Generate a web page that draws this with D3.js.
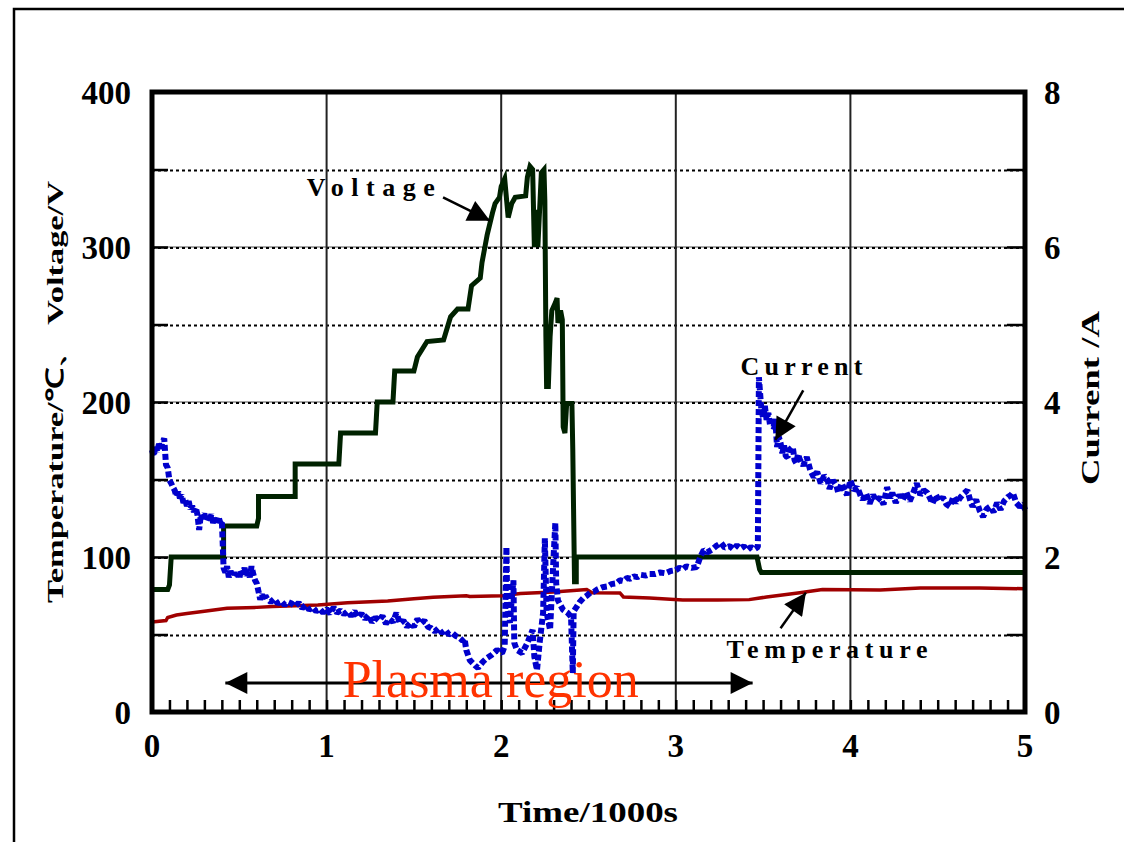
<!DOCTYPE html>
<html>
<head>
<meta charset="utf-8">
<script src="https://cdn.jsdelivr.net/npm/d3@7"></script>
<style>
  html, body { margin: 0; padding: 0; background: #fff; }
  svg { display: block; }
  .lbl { font-family: "Liberation Serif", "Times New Roman", serif; font-weight: bold; fill: #000; }
</style>
</head>
<body>
<svg id="chart" width="1124" height="842"></svg>
<script>
// ---- data: time in 1000 s ----
const timeTicks = [0, 1, 2, 3, 4, 5];
const leftTicks = [0, 100, 200, 300, 400];
const rightTicks = [0, 2, 4, 6, 8];

// Voltage (V)
const voltT = [0.00, 0.09, 0.10, 0.11, 0.41, 0.41, 0.60, 0.61, 0.61, 0.82, 0.82, 1.07, 1.075, 1.08, 1.28, 1.285, 1.29,
  1.38, 1.385, 1.39, 1.50, 1.52, 1.575, 1.67, 1.71, 1.75, 1.81, 1.83, 1.88, 1.89, 1.91, 1.92, 1.95, 1.965, 1.99, 2.00,
  2.02, 2.04, 2.06, 2.08, 2.14, 2.15, 2.165, 2.18, 2.19, 2.20, 2.21, 2.23, 2.245, 2.25, 2.256, 2.26, 2.27, 2.28, 2.29,
  2.31, 2.32, 2.325, 2.34, 2.35, 2.355, 2.365, 2.375, 2.405, 2.41, 2.42, 2.43, 2.43, 3.465, 3.48, 3.49, 5.00];
const voltV = [79, 79, 82, 100, 100, 120, 120, 125, 139, 139, 160, 160, 170, 180, 180, 190, 200,
  200, 210, 220, 220, 229, 239, 240, 255, 260, 260, 275, 280, 290, 302, 308, 322, 328, 332, 339,
  344, 319, 328, 332, 333, 345, 352, 350, 300, 324, 300, 348, 350, 330, 242, 210, 210, 242, 259,
  264, 267, 251, 259, 253, 184, 180, 199, 199, 169, 84, 84, 100, 100, 92, 90, 90];

// Current (A)
const currT = [
  0.00, 0.01, 0.02, 0.03, 0.04, 0.05, 0.06, 0.07, 0.08, 0.09, 0.10, 0.11, 0.12, 0.13, 0.14, 0.15, 0.16, 0.17, 0.18, 0.19,
  0.20, 0.21, 0.22, 0.23, 0.24, 0.25, 0.26, 0.27, 0.28, 0.29, 0.30, 0.31, 0.32, 0.33, 0.34, 0.35, 0.36, 0.37, 0.38, 0.39,
  0.40, 0.41, 0.42, 0.43, 0.44, 0.45, 0.46, 0.47, 0.48, 0.49, 0.50, 0.51, 0.52, 0.53, 0.54, 0.55, 0.56, 0.57, 0.58, 0.59,
  0.60, 0.62, 0.63, 0.64, 0.65, 0.66, 0.68, 0.70, 0.72, 0.74, 0.76, 0.78, 0.80, 0.82, 0.84, 0.86, 0.88, 0.90, 0.92, 0.94,
  0.96, 0.98, 1.00, 1.02, 1.04, 1.06, 1.08, 1.10, 1.12, 1.14, 1.16, 1.18, 1.20, 1.22, 1.24, 1.26, 1.28, 1.30, 1.32, 1.34,
  1.36, 1.38, 1.40, 1.42, 1.44, 1.46, 1.48, 1.50, 1.52, 1.54, 1.56, 1.58, 1.60, 1.62, 1.64, 1.66, 1.68, 1.70, 1.72, 1.74,
  1.76, 1.78, 1.79, 1.80, 1.82, 1.85, 1.867, 1.896, 1.92, 1.947, 1.976, 2.005, 2.02, 2.03, 2.035, 2.05, 2.06, 2.07, 2.075,
  2.09, 2.12, 2.15, 2.18, 2.19, 2.205, 2.22, 2.24, 2.25, 2.26, 2.28, 2.30, 2.31, 2.315, 2.325, 2.354, 2.38, 2.40, 2.41,
  2.415, 2.43, 2.45, 2.47, 2.49, 2.51, 2.53, 2.55, 2.58, 2.61, 2.63, 2.66, 2.68, 2.70, 2.72, 2.74, 2.76, 2.78, 2.80, 2.83,
  2.85, 2.88, 2.91, 2.94, 2.97, 3.00, 3.02, 3.04, 3.06, 3.09, 3.12, 3.14, 3.16, 3.18, 3.21, 3.23, 3.26, 3.28, 3.31, 3.33,
  3.35, 3.37, 3.39, 3.41, 3.43, 3.45, 3.47, 3.476, 3.49, 3.50, 3.51, 3.52, 3.53, 3.54, 3.56, 3.57, 3.58, 3.59, 3.60, 3.61,
  3.62, 3.63, 3.64, 3.65, 3.67, 3.68, 3.69, 3.70, 3.71, 3.73, 3.75, 3.77, 3.79, 3.81, 3.83, 3.85, 3.87, 3.88, 3.90, 3.92,
  3.93, 3.95, 3.96, 3.98, 4.00, 4.02, 4.04, 4.06, 4.07, 4.09, 4.11, 4.13, 4.15, 4.17, 4.19, 4.21, 4.23, 4.24, 4.26, 4.28,
  4.30, 4.32, 4.34, 4.36, 4.38, 4.40, 4.42, 4.44, 4.46, 4.47, 4.49, 4.51, 4.53, 4.55, 4.57, 4.59, 4.61, 4.63, 4.65, 4.67,
  4.69, 4.70, 4.72, 4.74, 4.76, 4.78, 4.80, 4.82, 4.84, 4.86, 4.88, 4.90, 4.92, 4.93, 4.95, 4.97, 4.99, 5.00];
const currI = [
  3.38, 3.30, 3.44, 3.36, 3.46, 3.40, 3.48, 3.53, 3.19, 3.15, 2.99, 2.95, 2.90, 2.86, 2.78, 2.84, 2.76, 2.80, 2.70, 2.74,
  2.66, 2.72, 2.62, 2.66, 2.58, 2.64, 2.55, 2.35, 2.55, 2.50, 2.56, 2.46, 2.52, 2.47, 2.55, 2.44, 2.50, 2.42, 2.52, 2.45,
  2.48, 1.86, 1.80, 1.88, 1.74, 1.82, 1.75, 1.80, 1.74, 1.78, 1.72, 1.84, 1.78, 1.86, 1.76, 1.82, 1.74, 1.88, 1.78, 1.70,
  1.66, 1.45, 1.52, 1.44, 1.50, 1.46, 1.42, 1.46, 1.40, 1.43, 1.38, 1.42, 1.40, 1.36, 1.41, 1.34, 1.38, 1.32, 1.35, 1.30,
  1.33, 1.28, 1.33, 1.27, 1.35, 1.28, 1.31, 1.26, 1.30, 1.24, 1.30, 1.22, 1.27, 1.20, 1.25, 1.16, 1.22, 1.18, 1.24, 1.14,
  1.20, 1.16, 1.28, 1.14, 1.18, 1.10, 1.15, 1.10, 1.20, 1.14, 1.18, 1.10, 1.08, 1.04, 1.08, 1.02, 1.06, 1.00, 1.02, 0.98,
  0.96, 0.92, 0.95, 0.80, 0.67, 0.60, 0.57, 0.65, 0.70, 0.74, 0.80, 0.76, 0.85, 2.13, 1.32, 1.15, 1.45, 1.70, 0.89,
  0.80, 0.76, 0.89, 1.06, 0.71, 0.54, 0.89, 1.28, 2.24, 1.28, 1.06, 2.00, 2.44, 1.66, 1.44, 1.32, 1.28, 1.23, 0.50,
  1.30, 1.35, 1.42, 1.47, 1.50, 1.54, 1.55, 1.58, 1.61, 1.62, 1.65, 1.66, 1.70, 1.69, 1.73, 1.72, 1.75, 1.74, 1.77, 1.76,
  1.78, 1.78, 1.80, 1.79, 1.82, 1.83, 1.86, 1.84, 1.88, 1.86, 1.87, 2.00, 2.09, 2.06, 2.10, 2.14, 2.18, 2.12, 2.14, 2.10,
  2.15, 2.11, 2.14, 2.09, 2.13, 2.10, 2.13, 4.32, 3.90, 3.80, 3.95, 3.77, 3.86, 3.70, 3.68, 3.78, 3.42, 3.55, 3.47, 3.34,
  3.44, 3.30, 3.29, 3.38, 3.42, 3.25, 3.21, 3.33, 3.26, 3.18, 3.29, 3.12, 3.03, 3.10, 2.95, 3.05, 2.99, 2.88, 2.99, 2.92,
  2.83, 2.95, 2.90, 2.80, 2.99, 2.86, 2.90, 2.78, 2.74, 2.82, 2.69, 2.80, 2.72, 2.77, 2.68, 2.90, 2.76, 2.83, 2.70, 2.80,
  2.74, 2.84, 2.72, 2.83, 2.95, 2.80, 2.86, 2.83, 2.74, 2.69, 2.80, 2.72, 2.77, 2.68, 2.65, 2.78, 2.70, 2.77, 2.82, 2.86,
  2.70, 2.65, 2.74, 2.60, 2.52, 2.62, 2.65, 2.58, 2.70, 2.61, 2.72, 2.77, 2.80, 2.83, 2.70, 2.65, 2.68, 2.61];

// Temperature (°C)
const tempT = [0.00, 0.08, 0.09, 0.14, 0.20, 0.30, 0.43, 0.60, 0.69, 0.95, 1.12, 1.35, 1.50, 1.61, 1.80, 1.82, 2.01,
  2.11, 2.30, 2.49, 2.52, 2.68, 2.70, 2.85, 3.04, 3.24, 3.42, 3.52, 3.61, 3.71, 3.84, 4.17, 4.40, 4.74, 5.00];
const tempC = [58, 59, 61, 62.6, 63.5, 65, 67, 67.5, 68, 69, 70.5, 71.6, 73, 74, 75, 74.5, 75,
  76.5, 77.4, 79, 77, 76.8, 74.2, 73.5, 72.3, 72.3, 72.5, 74.2, 75.5, 77, 79, 78.7, 80, 80, 79.5];

// ---- scales ----
const svg = d3.select("#chart");
const x = d3.scaleLinear().domain([0, 5]).range([152, 1025]);
const yV = d3.scaleLinear().domain([0, 400]).range([712, 92]);
const yI = d3.scaleLinear().domain([0, 8]).range([712, 92]);

// arrow head marker
const defs = svg.append("defs");
defs.append("marker").attr("id", "head").attr("viewBox", "0 0 10 10")
  .attr("refX", 10).attr("refY", 5).attr("markerUnits", "userSpaceOnUse")
  .attr("markerWidth", 26).attr("markerHeight", 22).attr("orient", "auto-start-reverse")
  .append("path").attr("d", "M0,0 L10,5 L0,10 Z").attr("fill", "#000");

// outer frame
svg.append("rect").attr("x", 14).attr("y", 9).attr("width", 1200).attr("height", 900)
  .attr("fill", "none").attr("stroke", "#000").attr("stroke-width", 2.5);

// ---- grid ----
const grid = svg.append("g");
grid.selectAll("line.hv").data([100, 200, 300]).join("line")
  .attr("x1", x(0)).attr("x2", x(5)).attr("y1", d => yV(d)).attr("y2", d => yV(d))
  .attr("stroke", "#8a8a8a").attr("stroke-width", 1.5);
grid.selectAll("line.hi").data([1, 2, 3, 4, 5, 6, 7]).join("line")
  .attr("x1", x(0)).attr("x2", x(5)).attr("y1", d => yI(d) + 1).attr("y2", d => yI(d) + 1)
  .attr("stroke", "#000").attr("stroke-width", 2).attr("stroke-dasharray", "3,3");
grid.selectAll("line.vt").data([1, 2, 3, 4]).join("line")
  .attr("x1", d => x(d)).attr("x2", d => x(d)).attr("y1", yV(400)).attr("y2", yV(0))
  .attr("stroke", "#222").attr("stroke-width", 2);

// ---- series ----
const line = (xs, ys, yScale) => d3.line().x(i => x(xs[i])).y(i => yScale(ys[i]))(d3.range(xs.length));

svg.append("path").attr("d", line(tempT, tempC, yV))
  .attr("fill", "none").attr("stroke", "#a00000").attr("stroke-width", 3.5);
svg.append("path").attr("d", line(voltT, voltV, yV))
  .attr("fill", "none").attr("stroke", "#002200").attr("stroke-width", 5).attr("stroke-linejoin", "miter");
svg.append("path").attr("d", line(currT, currI, yI))
  .attr("fill", "none").attr("stroke", "#0000cc").attr("stroke-width", 6)
  .attr("stroke-linejoin", "bevel").attr("stroke-dasharray", "6,3");

// ---- axes ----
const axL = svg.append("g").attr("transform", `translate(${x(0)},0)`)
  .call(d3.axisRight(yV).tickValues(d3.range(0, 401, 50)).tickSize(16).tickFormat(""));
const axR = svg.append("g").attr("transform", `translate(${x(5)},0)`)
  .call(d3.axisLeft(yI).tickValues(d3.range(0, 9, 1)).tickSize(18).tickFormat(""));
const axB = svg.append("g").attr("transform", `translate(0,${yV(0)})`)
  .call(d3.axisTop(x).tickValues(d3.range(0, 51).map(k => k / 10)).tickSize(12).tickFormat(""));
[axL, axR, axB].forEach(g => {
  g.select(".domain").remove();
  g.selectAll("line").attr("stroke", "#000").attr("stroke-width", 2.5);
});

// plot frame
svg.append("rect").attr("x", x(0)).attr("y", yV(400)).attr("width", x(5) - x(0)).attr("height", yV(0) - yV(400))
  .attr("fill", "none").attr("stroke", "#000").attr("stroke-width", 5);

// tick labels
svg.append("g").selectAll("text").data(leftTicks).join("text").attr("class", "lbl")
  .attr("x", 131).attr("y", d => yV(d)).attr("dy", "0.35em").attr("text-anchor", "end")
  .attr("font-size", 33).text(d => d);
svg.append("g").selectAll("text").data(rightTicks).join("text").attr("class", "lbl")
  .attr("x", 1044).attr("y", d => yI(d)).attr("dy", "0.35em").attr("text-anchor", "start")
  .attr("font-size", 33).text(d => d);
svg.append("g").selectAll("text").data(timeTicks).join("text").attr("class", "lbl")
  .attr("x", d => x(d)).attr("y", 757).attr("text-anchor", "middle")
  .attr("font-size", 33).text(d => d);

// axis titles
svg.append("text").attr("class", "lbl").attr("x", 588).attr("y", 822).attr("text-anchor", "middle")
  .attr("font-size", 30).attr("textLength", 180).attr("lengthAdjust", "spacingAndGlyphs").text("Time/1000s");
svg.append("text").attr("class", "lbl").attr("transform", "translate(63,392) rotate(-90)")
  .attr("text-anchor", "middle").attr("font-size", 24).attr("textLength", 422).attr("lengthAdjust", "spacingAndGlyphs")
  .text("Temperature/℃、 Voltage/V");
svg.append("text").attr("class", "lbl").attr("transform", "translate(1099,398) rotate(-90)")
  .attr("text-anchor", "middle").attr("font-size", 26).attr("textLength", 174).attr("lengthAdjust", "spacingAndGlyphs")
  .text("Current /A");

// ---- annotations ----
const ann = svg.append("g");
const arrow = (t1, v1, t2, v2, s) => ann.append("line")
  .attr("x1", x(t1)).attr("y1", s(v1)).attr("x2", x(t2)).attr("y2", s(v2))
  .attr("stroke", "#000").attr("stroke-width", 2.5).attr("marker-end", "url(#head)");

ann.append("text").attr("class", "lbl").attr("x", x(1.62)).attr("y", yV(339)).attr("dy", "0.35em")
  .attr("text-anchor", "end").attr("font-size", 26).attr("textLength", 128).attr("lengthAdjust", "spacing").text("Voltage");
arrow(1.667, 332, 1.936, 317, yV);

ann.append("text").attr("class", "lbl").attr("x", x(3.37)).attr("y", yI(4.46)).attr("dy", "0.35em")
  .attr("font-size", 26).attr("textLength", 122).attr("lengthAdjust", "spacing").text("Current");
arrow(3.73, 4.15, 3.57, 3.51, yI);

ann.append("text").attr("class", "lbl").attr("x", x(3.29)).attr("y", yV(41)).attr("dy", "0.35em")
  .attr("font-size", 26).attr("textLength", 201).attr("lengthAdjust", "spacing").text("Temperature");
arrow(3.60, 54, 3.745, 77, yV);

// plasma region span
ann.append("line").attr("x1", x(0.42)).attr("x2", x(3.44)).attr("y1", yV(18.7)).attr("y2", yV(18.7))
  .attr("stroke", "#000").attr("stroke-width", 3)
  .attr("marker-start", "url(#head)").attr("marker-end", "url(#head)");
ann.append("text").attr("x", x(1.94)).attr("y", yV(9.7)).attr("text-anchor", "middle")
  .attr("font-family", "'Liberation Serif', 'Times New Roman', serif").attr("font-size", 52)
  .attr("fill", "#ff3300").text("Plasma region");
</script>
</body>
</html>
